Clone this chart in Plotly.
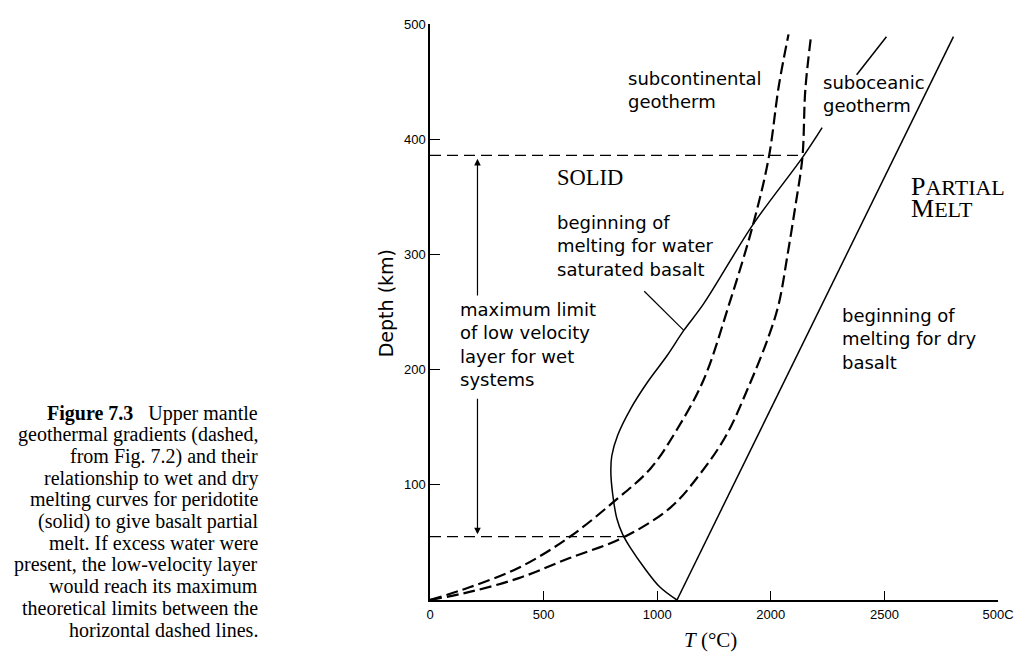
import plotly.graph_objects as go

# ---- data (T in °C, depth in km) ----
wet_T = [1087, 1013, 943, 883, 848, 822, 804, 796, 800, 826, 883, 957, 1043, 1117, 1204, 1422, 1639, 1726, None, 1878, 2009]
wet_D = [0, 11, 28, 45, 57, 71, 92, 111, 125, 143, 166, 189, 212, 234, 257, 326, 384, 410, None, 456, 489]

dry_T = [1087, 2304]
dry_D = [0, 489]

subcont_T = [0, 174, 391, 609, 813, 970, 1087, 1204, 1317, 1422, 1491, 1535, 1578]
subcont_D = [0, 11, 28, 54, 86, 114, 148, 191, 257, 326, 384, 446, 491]

subocean_T = [0, 174, 391, 609, 848, 1057, 1187, 1304, 1404, 1491, 1535, 1574, 1609, 1639, 1652, 1678]
subocean_D = [0, 7, 19, 36, 54, 80, 109, 143, 186, 229, 257, 300, 343, 384, 443, 491]

upper_limit_T = [0, 1639]
upper_limit_D = [386, 386]
lower_limit_T = [0, 856]
lower_limit_D = [55, 55]

pointer_T = [943, 1117]
pointer_D = [268, 234]

x_tickvals = [0, 500, 1000, 1500, 2000, 2500]
x_ticktext = ["0", "500", "1000", "2000", "2500", "500C"]
y_tickvals = [100, 200, 300, 400, 500]
y_ticktext = ["100", "200", "300", "400", "500"]

caption_lines = [
    "<b>Figure 7.3</b>   Upper mantle",
    "geothermal gradients (dashed,",
    "from Fig. 7.2) and their",
    "relationship to wet and dry",
    "melting curves for peridotite",
    "(solid) to give basalt partial",
    "melt. If excess water were",
    "present, the low-velocity layer",
    "would reach its maximum",
    "theoretical limits between the",
    "horizontal dashed lines.",
]

SANS = "DejaVu Sans"
SERIF = "Liberation Serif"
BIG = "<span style='font-size:26px'>{}</span>"
SC = "<span style='font-size:22px'>{}</span>"

labels = [
    ("subcontinental<br>geotherm", 861, 443, SANS, 18),
    ("suboceanic<br>geotherm", 1722, 439, SANS, 18),
    ("SOLID", 552, 367, SERIF, 22.5),
    (BIG.format("P") + SC.format("ARTIAL") + "<br>" + BIG.format("M") + SC.format("ELT"), 2109, 349, SERIF, 17),
    ("beginning of<br>melting for water<br>saturated basalt", 552, 307, SANS, 18),
    ("beginning of<br>melting for dry<br>basalt", 1804, 227, SANS, 18),
    ("maximum limit<br>of low velocity<br>layer for wet<br>systems", 122, 222, SANS, 18),
]

arrow_T = 209
arrow_top = (263, 383)
arrow_bottom = (176, 57)

fig = go.Figure()

smooth = dict(shape="spline", smoothing=1.0)
fig.add_trace(go.Scatter(x=wet_T, y=wet_D, mode="lines", line=dict(color="black", width=1.5, **smooth), hoverinfo="skip", connectgaps=False))
fig.add_trace(go.Scatter(x=dry_T, y=dry_D, mode="lines", line=dict(color="black", width=1.5), hoverinfo="skip"))
fig.add_trace(go.Scatter(x=subcont_T, y=subcont_D, mode="lines", line=dict(color="black", width=2.2, dash="12px,5px", **smooth), hoverinfo="skip"))
fig.add_trace(go.Scatter(x=subocean_T, y=subocean_D, mode="lines", line=dict(color="black", width=2.2, dash="12px,5px", **smooth), hoverinfo="skip"))
fig.add_trace(go.Scatter(x=upper_limit_T, y=upper_limit_D, mode="lines", line=dict(color="black", width=1.4, dash="11px,6px"), hoverinfo="skip"))
fig.add_trace(go.Scatter(x=lower_limit_T, y=lower_limit_D, mode="lines", line=dict(color="black", width=1.4, dash="11px,6px"), hoverinfo="skip"))
fig.add_trace(go.Scatter(x=pointer_T, y=pointer_D, mode="lines", line=dict(color="black", width=1.2), hoverinfo="skip"))

# arrows
for tail, head in (arrow_top, arrow_bottom):
    fig.add_annotation(x=arrow_T, y=head, ax=arrow_T, ay=tail, xref="x", yref="y", axref="x", ayref="y",
                       text="", showarrow=True, arrowhead=2, arrowsize=1.1, arrowwidth=1.2, arrowcolor="black")

for text, tx, ty, fam, size in labels:
    fig.add_annotation(x=tx, y=ty, xref="x", yref="y", text=text, showarrow=False, xanchor="left", yanchor="middle",
                       align="left", font=dict(family=fam, size=size, color="black"))

# caption, one annotation per line (line pitch ~22 px; plot height 583 px)
cap_top = (600 - 411) / 583
cap_step = 21.9 / 583
for i, line in enumerate(caption_lines):
    fig.add_annotation(x=-0.299, y=cap_top - i * cap_step, xref="paper", yref="paper", text=line, showarrow=False,
                       xanchor="right", yanchor="middle", align="right",
                       font=dict(family=SERIF, size=20, color="black"))

# axis titles
fig.add_annotation(x=-0.078, y=0.5146, xref="paper", yref="paper", text="Depth (km)", textangle=-90, showarrow=False,
                   xanchor="center", yanchor="middle", font=dict(family=SANS, size=19, color="black"))
fig.add_annotation(x=0.494, y=-0.0703, xref="paper", yref="paper", text="<i>T</i> (°C)", showarrow=False,
                   xanchor="center", yanchor="middle", font=dict(family=SERIF, size=21, color="black"))

fig.update_layout(
    width=1015, height=651,
    margin=dict(l=422, r=18, t=9, b=59),
    paper_bgcolor="white", plot_bgcolor="white",
    showlegend=False,
    xaxis=dict(range=[0, 2500], tickvals=x_tickvals, ticktext=x_ticktext, ticks="inside", ticklen=9, tickwidth=1.3,
               tickcolor="black", showline=True, linecolor="black", linewidth=1.5, showgrid=False, zeroline=False,
               tickfont=dict(family="Liberation Sans", size=13, color="black"), ticklabelstandoff=2),
    yaxis=dict(range=[0, 500], tickvals=y_tickvals, ticktext=y_ticktext, ticks="inside", ticklen=10, tickwidth=1.3,
               tickcolor="black", showline=True, linecolor="black", linewidth=1.5, showgrid=False, zeroline=False,
               tickfont=dict(family="Liberation Sans", size=13, color="black")),
)

fig.write_html("out.html")
